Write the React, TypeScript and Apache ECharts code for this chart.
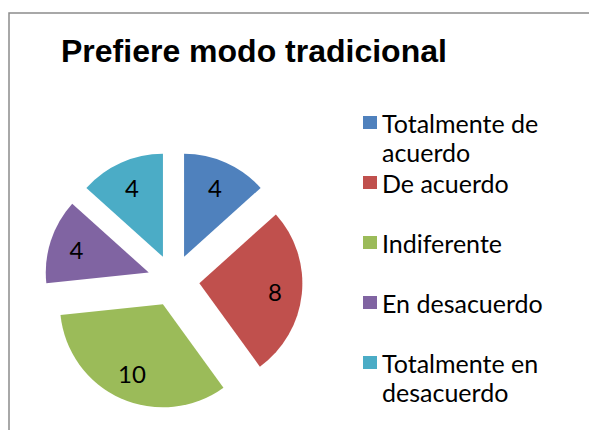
import React, { useEffect, useRef } from "react";
import * as echarts from "echarts";

const titleText = "Prefiere modo tradicional";
const categories = [
  "Totalmente de acuerdo",
  "De acuerdo",
  "Indiferente",
  "En desacuerdo",
  "Totalmente en desacuerdo",
];
const legendLabels = [
  "Totalmente de\nacuerdo",
  "De acuerdo\n ",
  "Indiferente\n ",
  "En desacuerdo\n ",
  "Totalmente en\ndesacuerdo",
];
const values = [4, 8, 10, 4, 4];
const colors = ["#4F81BD", "#C0504D", "#9BBB59", "#8064A2", "#4BACC6"];

const FONT = "Lato";

export default function App() {
  const ref = useRef<HTMLDivElement>(null);
  useEffect(() => {
    if (!ref.current) return;
    const chart = echarts.init(ref.current, undefined, { renderer: "svg" });
    const center = [173.5, 280.6];
    const pieData = categories.map((name, i) => ({
      name,
      value: values[i],
      selected: true,
      itemStyle: { color: colors[i] },
    }));
    const labelData = categories.map((name, i) => ({
      name,
      value: values[i],
      selected: true,
      itemStyle: { color: "rgba(0,0,0,0)" },
    }));
    const iconPath = "path://M0,8L14,8L14,21L0,21Z M0,0L0.01,0L0.01,0.01Z M13.99,58L14,58L14,57.99Z";
    chart.setOption({
      animation: false,
      title: {
        text: titleText,
        left: 61,
        top: 35,
        padding: 0,
        textStyle: {
          fontFamily: "Liberation Sans",
          fontWeight: "bold",
          fontSize: 32,
          color: "#000",
        },
      },
      legend: {
        orient: "vertical",
        left: 363,
        top: 108,
        padding: 0,
        itemGap: 2,
        itemWidth: 14,
        itemHeight: 58,
        selectedMode: false,
        data: categories.map((name) => ({ name, icon: iconPath })),
        formatter: (name: string) => legendLabels[categories.indexOf(name)],
        textStyle: {
          fontFamily: FONT,
          fontSize: 25,
          lineHeight: 29,
          color: "#000",
        },
      },
      graphic: [
        {
          type: "rect",
          shape: { x: 9, y: 13, width: 600, height: 500 },
          style: { fill: "none", stroke: "#8c8c8c", lineWidth: 1.5 },
          silent: true,
        },
      ],
      series: [
        {
          type: "pie",
          center,
          radius: [0, 103],
          startAngle: 90,
          clockwise: true,
          selectedMode: "multiple",
          selectedOffset: 26,
          silent: true,
          label: { show: false },
          labelLine: { show: false },
          emphasis: { disabled: true },
          data: pieData,
        },
        {
          type: "pie",
          center,
          radius: [0, 146],
          startAngle: 90,
          clockwise: true,
          selectedMode: "multiple",
          selectedOffset: 26,
          silent: true,
          legendHoverLink: false,
          avoidLabelOverlap: false,
          label: {
            show: true,
            position: "inside",
            formatter: "{c}",
            fontFamily: FONT,
            fontSize: 24,
            color: "#000",
          },
          labelLine: { show: false },
          emphasis: { disabled: true },
          data: labelData,
        },
      ],
    });
    return () => chart.dispose();
  }, []);
  return (
    <div
      ref={ref}
      style={{ position: "absolute", left: 0, top: 0, width: 589, height: 430 }}
    />
  );
}
